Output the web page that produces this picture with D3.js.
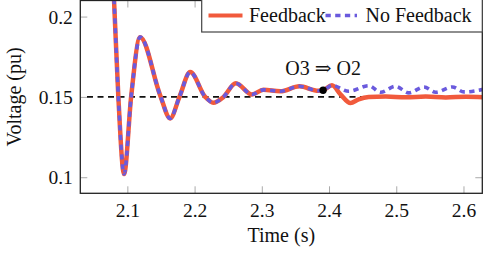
<!DOCTYPE html>
<html>
<head>
<meta charset="utf-8">
<script src="https://cdn.jsdelivr.net/npm/d3@7"></script>
<style>
  body { margin: 0; background: #fff; }
  svg text { font-family: "Liberation Serif", "DejaVu Serif", serif; fill: #111; }
</style>
</head>
<body>
<div id="chart"></div>
<script>
// shared response before the operating point switch
var timeShared = [2.0765, 2.0802, 2.0866, 2.0951, 2.1056, 2.1190, 2.1488, 2.1637, 2.1775, 2.1935,
                  2.2158, 2.2278, 2.2431, 2.2613, 2.2854, 2.3023, 2.3276, 2.3559, 2.3842, 2.3912, 2.4044];
var voltShared = [0.241, 0.21, 0.15, 0.102, 0.15, 0.1872, 0.151, 0.1366, 0.15, 0.1655,
                  0.15, 0.1464, 0.15, 0.1585, 0.1515, 0.1544, 0.1535, 0.1566, 0.1538, 0.1541, 0.1572];
// after switch: with feedback
var timeFb = [2.4170, 2.4319, 2.4440, 2.4590, 2.4843, 2.5141, 2.5439, 2.5737, 2.6035, 2.6318];
var voltFb = [0.1516, 0.1462, 0.1485, 0.1499, 0.1502, 0.1498, 0.1502, 0.1497, 0.1501, 0.1498];
// after switch: without feedback
var timeNoFb = [2.4294, 2.4592, 2.4766, 2.4990, 2.5188, 2.5412, 2.5586, 2.5835, 2.6008, 2.6316];
var voltNoFb = [0.1535, 0.1570, 0.1529, 0.1566, 0.1525, 0.1562, 0.1529, 0.1562, 0.1531, 0.1549];

var xTicks = [2.1, 2.2, 2.3, 2.4, 2.5, 2.6];
var yTicks = [0.1, 0.15, 0.2];
var refLevel = 0.15;
var switchPoint = [2.3912, 0.1541];
var switchLabel = 'O3 \u21D2 O2';
var seriesNames = ['Feedback', 'No Feedback'];

var w = 484, h = 253;
var margin = {top: 0.5, right: 1.7, bottom: 59.7, left: 80.3};
var innerW = w - margin.left - margin.right,
    innerH = h - margin.top - margin.bottom;

var svg = d3.select('#chart').append('svg')
    .attr('width', w)
    .attr('height', h);
var g = svg.append('g')
    .attr('transform', 'translate(' + [margin.left, margin.top] + ')');

var x = d3.scaleLinear().domain([2.03, 2.628]).range([0, innerW]);
var y = d3.scaleLinear().domain([0.09, 0.21]).range([innerH, 0]);

g.append('clipPath').attr('id', 'clip')
  .append('rect').attr('width', innerW).attr('height', innerH);

// ticks inside the box on all sides
var tickLen = 7;
var axisStyle = function(sel) {
  sel.attr('font-family', null);
  sel.select('.domain').remove();
  sel.selectAll('.tick line').attr('stroke', '#aaa').attr('stroke-width', 1);
};
g.append('g').attr('transform', 'translate(0,' + innerH + ')')
  .call(d3.axisBottom(x).tickValues(xTicks).tickSizeInner(-tickLen).tickSizeOuter(0).tickFormat(d3.format('.1f')))
  .call(axisStyle)
  .selectAll('text').attr('font-size', 19.5).attr('y', 10).attr('dy', '0.71em').attr('fill', '#111');
g.append('g')
  .call(d3.axisTop(x).tickValues(xTicks).tickSizeInner(-tickLen).tickSizeOuter(0).tickFormat(''))
  .call(axisStyle);
g.append('g')
  .call(d3.axisLeft(y).tickValues(yTicks).tickSizeInner(-tickLen).tickSizeOuter(0).tickFormat(function(d) { return String(d); }))
  .call(axisStyle)
  .selectAll('text').attr('font-size', 19.5).attr('x', -7.5).attr('dy', '0.34em').attr('fill', '#111');
g.append('g').attr('transform', 'translate(' + innerW + ',0)')
  .call(d3.axisRight(y).tickValues(yTicks).tickSizeInner(-tickLen).tickSizeOuter(0).tickFormat(''))
  .call(axisStyle);

// reference level
g.append('line')
  .attr('x1', x(2.04)).attr('x2', innerW)
  .attr('y1', y(refLevel)).attr('y2', y(refLevel))
  .attr('stroke', '#111').attr('stroke-width', 1.8)
  .attr('stroke-dasharray', '6,4.5');

var line = d3.line()
  .x(function(d) { return x(d[0]); })
  .y(function(d) { return y(d[1]); })
  .curve(d3.curveMonotoneX);

var zip = function(a, b) { return a.map(function(t, i) { return [t, b[i]]; }); };
var fbData = zip(timeShared.concat(timeFb), voltShared.concat(voltFb));
var noFbData = zip(timeShared.concat(timeNoFb), voltShared.concat(voltNoFb));

var curves = g.append('g').attr('clip-path', 'url(#clip)');
curves.append('path').datum(fbData)
  .attr('d', line).attr('fill', 'none')
  .attr('stroke', '#f15a3c').attr('stroke-width', 4.5).attr('stroke-linejoin', 'round');
curves.append('path').datum(noFbData)
  .attr('d', line).attr('fill', 'none')
  .attr('stroke', '#6a5add').attr('stroke-width', 3.6)
  .attr('stroke-dasharray', '5.3,4.4');

// switching point
g.append('circle')
  .attr('cx', x(switchPoint[0])).attr('cy', y(switchPoint[1]))
  .attr('r', 3.7).attr('fill', '#000');
g.append('text')
  .attr('x', x(switchPoint[0])).attr('y', y(switchPoint[1]) - 15)
  .attr('text-anchor', 'middle').attr('font-size', 20)
  .text(switchLabel);

// frame
g.append('rect')
  .attr('width', innerW).attr('height', innerH)
  .attr('fill', 'none').attr('stroke', '#222').attr('stroke-width', 1.3);

// legend
var leg = svg.append('g');
leg.append('rect')
  .attr('x', 201.7).attr('y', -1).attr('width', 280.6).attr('height', 33)
  .attr('fill', '#fff').attr('stroke', '#444').attr('stroke-width', 1.2);
leg.append('line').attr('x1', 208.5).attr('x2', 242.5).attr('y1', 15.5).attr('y2', 15.5)
  .attr('stroke', '#f15a3c').attr('stroke-width', 4);
leg.append('text').attr('x', 249).attr('y', 21.5).attr('font-size', 20).text(seriesNames[0]);
leg.append('line').attr('x1', 325.5).attr('x2', 357).attr('y1', 15.5).attr('y2', 15.5)
  .attr('stroke', '#6a5add').attr('stroke-width', 3.6).attr('stroke-dasharray', '5.3,4.4');
leg.append('text').attr('x', 365.5).attr('y', 21.5).attr('font-size', 20).text(seriesNames[1]);

// axis titles
svg.append('text')
  .attr('x', margin.left + innerW / 2).attr('y', 242)
  .attr('text-anchor', 'middle').attr('font-size', 20)
  .text('Time (s)');
svg.append('text')
  .attr('transform', 'translate(21,' + (margin.top + innerH / 2) + ') rotate(-90)')
  .attr('text-anchor', 'middle').attr('font-size', 20)
  .text('Voltage (pu)');
</script>
</body>
</html>
